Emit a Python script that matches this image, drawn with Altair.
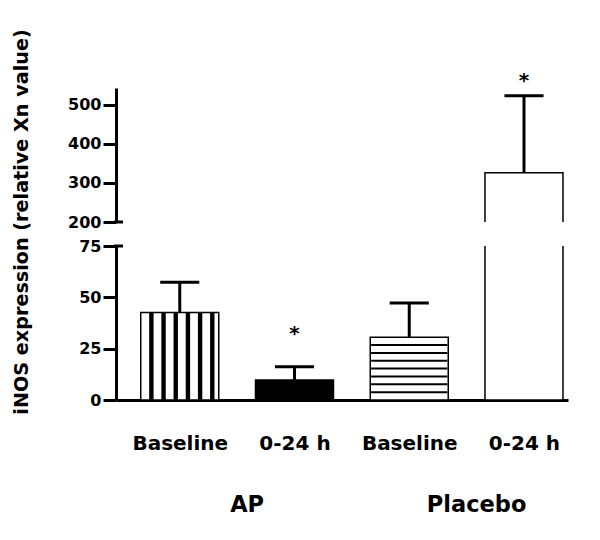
import json
import altair as alt
import pandas as pd

# ---------------- data ----------------
conditions = ["Baseline", "0-24 h", "Baseline", "0-24 h"]
groups = ["AP", "AP", "Placebo", "Placebo"]
means = [42.6, 9.8, 30.6, 326.0]
err_tops = [57.4, 16.2, 47.2, 523.0]
significant = [False, True, False, True]
patterns = ["vertical", "solid", "horizontal", "open"]
group_names = ["AP", "Placebo"]
y_title = "iNOS expression (relative Xn value)"
lower_ticks = [0, 25, 50, 75]
upper_ticks = [200, 300, 400, 500]

# ---------------- layout / style ----------------
FONT = "DejaVu Sans"
W_PX = 452
X_DOMAIN = [0.488, 4.34]
PX_PER_UNIT = W_PX / (X_DOMAIN[1] - X_DOMAIN[0])
BAR_PX = 78
BAR_U = BAR_PX / PX_PER_UNIT
CAP_U = 40 / PX_PER_UNIT
LOWER_DOMAIN = [0, 75]
UPPER_DOMAIN = [200, 543]
LOWER_H = 154
UPPER_H = 134
fill_for = {"vertical": "white", "solid": "black", "horizontal": "white", "open": "white"}

pos = list(range(1, len(means) + 1))
df = pd.DataFrame({
    "key": [f"{g} {c}" for g, c in zip(groups, conditions)],
    "pos": pos,
    "mean": means,
    "err": err_tops,
    "sig": significant,
    "pattern": patterns,
})
df["cap_l"] = df["pos"] - CAP_U / 2
df["cap_r"] = df["pos"] + CAP_U / 2
fill_scale = alt.Scale(domain=list(df["key"]), range=[fill_for[p] for p in patterns])

# stripe patterns built from bar geometry
vs_rows = []
for _, r in df[df["pattern"] == "vertical"].iterrows():
    for i in range(6):
        vs_rows.append({"x": r["pos"] + BAR_U * (-0.372 + i * 0.1597), "top": r["mean"]})
vs_df = pd.DataFrame(vs_rows)
hs_rows = []
for _, r in df[df["pattern"] == "horizontal"].iterrows():
    for k in range(1, 8):
        hs_rows.append({"y": r["mean"] * k / 8, "xl": r["pos"] - BAR_U / 2, "xr": r["pos"] + BAR_U / 2})
hs_df = pd.DataFrame(hs_rows)

grp_df = pd.DataFrame({
    "g": group_names,
    "x": [df[df["key"].str.startswith(g + " ")]["pos"].mean() for g in group_names],
})

xs = alt.Scale(domain=X_DOMAIN, nice=False, zero=False)
ys_low = alt.Scale(domain=LOWER_DOMAIN, nice=False, zero=False)
ys_up = alt.Scale(domain=UPPER_DOMAIN, nice=False, zero=False)

label_expr = json.dumps(conditions) + "[datum.value - 1]"
x_axis_low = alt.Axis(values=pos, labelExpr=label_expr, ticks=False, grid=False, domainWidth=3,
                      domainColor="black", labelColor="black", labelFont=FONT, labelFontSize=20,
                      labelFontWeight="bold", labelPadding=33, title=None, labelFlush=False,
                      labelOverlap=False)
y_common = dict(grid=False, title=None, tickSize=13, tickWidth=3, domainWidth=3,
                domainColor="black", tickColor="black", labelColor="black", labelFont=FONT,
                labelFontSize=16, labelFontWeight="bold", labelPadding=2)
y_axis_low = alt.Axis(values=lower_ticks, **y_common)
y_axis_up = alt.Axis(values=upper_ticks, **y_common)


def panel(ys, yaxis, xaxis, height, lower):
    base = alt.Chart(df)
    X = lambda f: alt.X(f, scale=xs, axis=xaxis) if xaxis is not None else alt.X(f, scale=xs, axis=None)
    Y = lambda f: alt.Y(f, scale=ys, axis=yaxis)
    bars = base.mark_bar(size=BAR_PX, stroke="black", strokeWidth=1.5, clip=True).encode(
        x=X("pos:Q"), y=Y("mean:Q"), y2=alt.datum(0),
        fill=alt.Fill("key:N", scale=fill_scale, legend=None),
    )
    stems = base.mark_rule(strokeWidth=3, color="black", clip=True).encode(
        x=X("pos:Q"), y=Y("mean:Q"), y2="err:Q")
    caps = base.mark_rule(strokeWidth=3, color="black", clip=True).encode(
        x=X("cap_l:Q"), x2="cap_r:Q", y=Y("err:Q"))
    layers = [bars, stems, caps]
    if lower:
        vs = alt.Chart(vs_df).mark_rule(strokeWidth=4.4, color="black").encode(
            x=X("x:Q"), y=Y("top:Q"), y2=alt.datum(0))
        hs = alt.Chart(hs_df).mark_rule(strokeWidth=2, color="black").encode(
            x=X("xl:Q"), x2="xr:Q", y=Y("y:Q"))
        star_df = df[df["sig"] & (df["err"] <= LOWER_DOMAIN[1])]
        star = alt.Chart(star_df).mark_text(text="*", font=FONT, fontSize=20, fontWeight="bold",
                                            baseline="alphabetic", dy=-27, color="black").encode(
            x=X("pos:Q"), y=Y("err:Q"))
        glab = alt.Chart(grp_df).mark_text(font=FONT, fontSize=22.5, fontWeight="bold",
                                           baseline="alphabetic", dx=10, color="black").encode(
            x=X("x:Q"), y=alt.value(266), text="g:N")
        brk = alt.Chart(pd.DataFrame({"v": [lower_ticks[-1]]})).mark_rule(
            strokeWidth=3, color="black").encode(y=Y("v:Q"), x=alt.value(-2), x2=alt.value(7))
        layers += [vs, hs, star, glab, brk]
    else:
        star_df = df[df["sig"] & (df["err"] > LOWER_DOMAIN[1])]
        star = alt.Chart(star_df).mark_text(text="*", font=FONT, fontSize=20, fontWeight="bold",
                                            baseline="alphabetic", dy=-9, color="black").encode(
            x=X("pos:Q"), y=Y("err:Q"))
        title = alt.Chart(pd.DataFrame({"t": [y_title]})).mark_text(
            font=FONT, fontSize=19.2, fontWeight="bold", angle=270, align="center",
            baseline="middle", color="black").encode(
            text="t:N", x=alt.value(-94), y=alt.value(UPPER_H))
        brk = alt.Chart(pd.DataFrame({"v": [upper_ticks[0]]})).mark_rule(
            strokeWidth=3, color="black").encode(y=Y("v:Q"), x=alt.value(-2), x2=alt.value(7))
        layers += [star, title, brk]
    return alt.layer(*layers).properties(width=W_PX, height=height)


upper = panel(ys_up, y_axis_up, None, UPPER_H, lower=False)
lower = panel(ys_low, y_axis_low, x_axis_low, LOWER_H, lower=True)

chart = alt.vconcat(upper, lower, spacing=24, bounds="flush").properties(
    padding={"left": 4, "top": 20, "right": 5, "bottom": 5},
    background="white",
).configure_view(stroke="transparent")

chart.save("out.html", embed_options={"renderer": "svg", "actions": False})
